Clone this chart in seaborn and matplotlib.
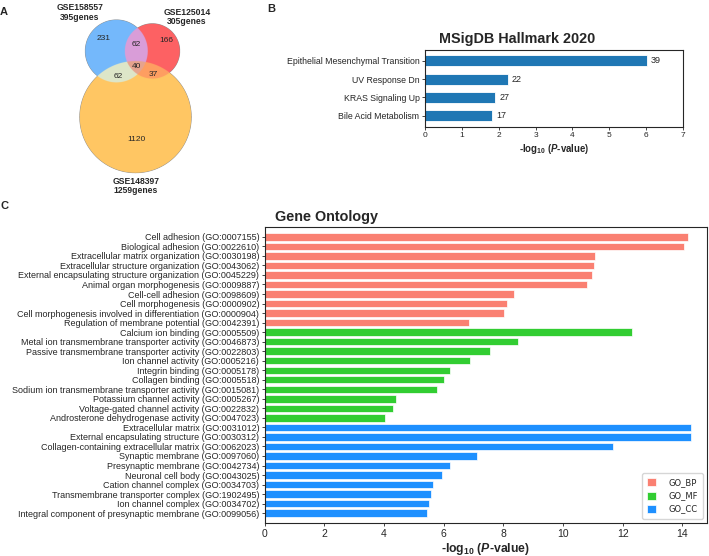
import numpy as np
import pandas as pd
import matplotlib
matplotlib.use("Agg")
import matplotlib.pyplot as plt
import seaborn as sns

sns.set_style("ticks")
plt.rcParams["font.family"] = ["Liberation Sans", "DejaVu Sans"]
plt.rcParams["mathtext.fontset"] = "custom"
plt.rcParams["mathtext.rm"] = "Liberation Sans"
plt.rcParams["mathtext.it"] = "Liberation Sans:italic"
plt.rcParams["mathtext.bf"] = "Liberation Sans:bold"
plt.rcParams["mathtext.bfit"] = "Liberation Sans:italic:bold"
plt.rcParams["axes.linewidth"] = 0.8

# --- Venn data
venn_names = ["GSE158557", "GSE125014", "GSE148397"]
venn_sizes = [395, 305, 1259]
only_counts = [231, 166, 1120]
ab_count, ac_count, bc_count, abc_count = 62, 62, 37, 40

# --- MSigDB hallmark
hallmark_terms = ["Epithelial Mesenchymal Transition", "UV Response Dn",
                  "KRAS Signaling Up", "Bile Acid Metabolism"]
hallmark_logp = [6.01, 2.24, 1.90, 1.83]
hallmark_genes = [39, 22, 27, 17]

# --- Gene ontology
go_terms = [
    "Cell adhesion (GO:0007155)",
    "Biological adhesion (GO:0022610)",
    "Extracellular matrix organization (GO:0030198)",
    "Extracellular structure organization (GO:0043062)",
    "External encapsulating structure organization (GO:0045229)",
    "Animal organ morphogenesis (GO:0009887)",
    "Cell-cell adhesion (GO:0098609)",
    "Cell morphogenesis (GO:0000902)",
    "Cell morphogenesis involved in differentiation (GO:0000904)",
    "Regulation of membrane potential (GO:0042391)",
    "Calcium ion binding (GO:0005509)",
    "Metal ion transmembrane transporter activity (GO:0046873)",
    "Passive transmembrane transporter activity (GO:0022803)",
    "Ion channel activity (GO:0005216)",
    "Integrin binding (GO:0005178)",
    "Collagen binding (GO:0005518)",
    "Sodium ion transmembrane transporter activity (GO:0015081)",
    "Potassium channel activity (GO:0005267)",
    "Voltage-gated channel activity (GO:0022832)",
    "Androsterone dehydrogenase activity (GO:0047023)",
    "Extracellular matrix (GO:0031012)",
    "External encapsulating structure (GO:0030312)",
    "Collagen-containing extracellular matrix (GO:0062023)",
    "Synaptic membrane (GO:0097060)",
    "Presynaptic membrane (GO:0042734)",
    "Neuronal cell body (GO:0043025)",
    "Cation channel complex (GO:0034703)",
    "Transmembrane transporter complex (GO:1902495)",
    "Ion channel complex (GO:0034702)",
    "Integral component of presynaptic membrane (GO:0099056)",
]
go_bp = [14.18, 14.06, 11.07, 11.04, 10.97, 10.79, 8.36, 8.11, 8.03, 6.86]
go_mf = [12.32, 8.50, 7.54, 6.88, 6.21, 6.02, 5.77, 4.39, 4.30, 4.04]
go_cc = [14.29, 14.28, 11.67, 7.11, 6.21, 5.95, 5.63, 5.58, 5.51, 5.43]
go_cats = ["GO_BP", "GO_MF", "GO_CC"]

W, H = 709, 556
fig = plt.figure(figsize=(W / 100, H / 100), dpi=100)


def px_axes(left, top, right, bottom):
    return fig.add_axes([left / W, 1 - bottom / H, (right - left) / W, (bottom - top) / H])


# ---------------- A: Venn
axv = px_axes(60, 0, 220, 200)
k = 1.578
radii = [k * np.sqrt(s) for s in venn_sizes]
centers = [(116.4, 51.0), (152.4, 51.0), (135.5, 117.0)]
xs = np.linspace(60, 220, 1600)
ys = np.linspace(0, 200, 2000)
X, Y = np.meshgrid(xs, ys)
inside = [(X - c[0]) ** 2 + (Y - c[1]) ** 2 <= r ** 2 for c, r in zip(centers, radii)]
a, b, c = inside
img = np.zeros(X.shape + (4,))
region_cols = [
    (a & ~b & ~c, "#74b9fb"),
    (~a & b & ~c, "#fd6163"),
    (~a & ~b & c, "#ffc663"),
    (a & b & ~c, "#d99dd8"),
    (a & ~b & c, "#dee6c9"),
    (~a & b & c, "#fe9e62"),
    (a & b & c, "#e6a48e"),
]
for mask, col in region_cols:
    img[mask] = matplotlib.colors.to_rgba(col)
axv.imshow(img, extent=(60, 220, 200, 0), origin="upper", interpolation="antialiased")
axv.set_xlim(60, 220)
axv.set_ylim(200, 0)
axv.axis("off")

num_pos = [(103.7, 38.7), (166.7, 40.7), (136, 139.3)]
for (x, y), n in zip(num_pos, only_counts):
    axv.text(x, y, str(n), ha="center", va="center", fontsize=6)
for (x, y), n in zip([(136, 44.3), (118.3, 76), (153.3, 74.3), (136, 66.7)],
                     [ab_count, ac_count, bc_count, abc_count]):
    axv.text(x, y, str(n), ha="center", va="center", fontsize=6)
for (x, y), nm, s in zip([(80, 12.5), (187, 17), (136, 186)], venn_names, venn_sizes):
    axv.text(x, y, f"{nm}\n{s}genes", ha="center", va="center", fontsize=6.2,
             fontweight="bold", linespacing=1.1)

# ---------------- B: MSigDB
axb = px_axes(425, 50, 683, 126.7)
sns.barplot(x=hallmark_logp, y=hallmark_terms, color="#1f77b4", saturation=1,
            width=0.6, edgecolor="white", linewidth=0.6, ax=axb)
axb.set_xlim(0, 7)
axb.set_ylim(3.6, -0.6)
for i, (v, g) in enumerate(zip(hallmark_logp, hallmark_genes)):
    axb.annotate(str(g), (v, i), xytext=(3, 0), textcoords="offset points",
                 va="center", ha="left", fontsize=6.5)
axb.tick_params(axis="y", labelsize=6.3, length=2.5, width=0.6, pad=1.5)
axb.tick_params(axis="x", labelsize=6, length=2.5, width=0.6, pad=1.5)
axb.set_xlabel(r"-log$_{\mathbf{10}}$ ($\mathbfit{P}$-value)", fontsize=6.9,
               fontweight="bold", labelpad=2)
axb.set_ylabel("")
fig.text(439 / W, 1 - 42.7 / H, "MSigDB Hallmark 2020", fontsize=10.4,
         fontweight="bold", va="baseline", ha="left")

# ---------------- C: Gene ontology
df_go = pd.DataFrame({
    "term": go_terms,
    "logp": go_bp + go_mf + go_cc,
    "category": [cat for cat in go_cats for _ in range(10)],
})
axc = px_axes(264.7, 227.3, 706.7, 522.7)
sns.barplot(data=df_go, x="logp", y="term", hue="category", dodge=False,
            palette=["#fa8072", "#32cd32", "#1e90ff"], saturation=1, width=0.78,
            edgecolor="white", linewidth=0.5, ax=axc)
axc.set_xlim(0, 14.82)
axc.set_ylim(30, -1)
axc.tick_params(axis="y", labelsize=6.5, length=2.5, width=0.6, pad=1.5)
axc.tick_params(axis="x", labelsize=7.5, length=2.5, width=0.6, pad=2)
axc.set_xlabel(r"-log$_{\mathbf{10}}$ ($\mathbfit{P}$-value)", fontsize=8.8,
               fontweight="bold", labelpad=1.5)
axc.set_ylabel("")
axc.legend(loc="lower right", handlelength=1, handleheight=1.1,
           borderpad=0.6, labelspacing=0.5, handletextpad=1.5,
           prop={"family": "DejaVu Sans", "size": 6})
fig.text(275 / W, 1 - 220.7 / H, "Gene Ontology", fontsize=10.4,
         fontweight="bold", va="baseline", ha="left")

# panel letters
for x, y, t in [(4, 12, "A"), (271, 9, "B"), (4.5, 206, "C")]:
    fig.text(x / W, 1 - y / H, t, fontsize=8, fontweight="bold",
             ha="center", va="center")

fig.savefig("out.png", dpi=100)
